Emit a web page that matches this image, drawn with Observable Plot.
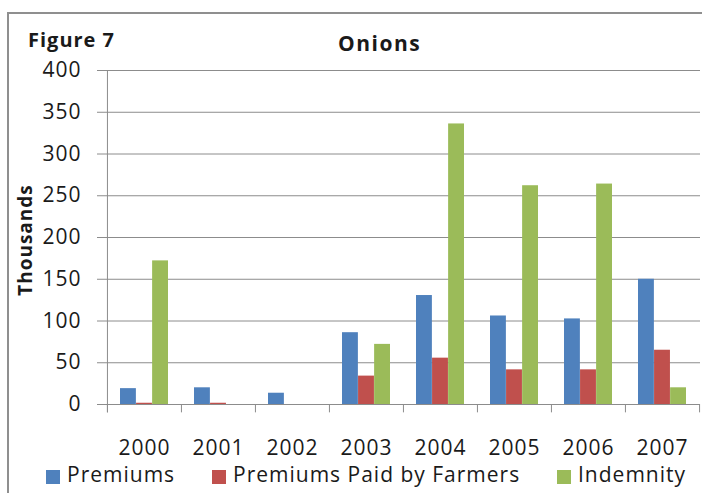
<!DOCTYPE html>
<html>
<head>
<meta charset="utf-8">
<script src="https://cdn.jsdelivr.net/npm/d3@7"></script>
<script src="https://cdn.jsdelivr.net/npm/@observablehq/plot@0.6"></script>
<style>
  html, body { margin: 0; padding: 0; background: #fff; }
  #wrap { position: relative; width: 702px; height: 493px; overflow: hidden; font-family: "Open Sans", sans-serif; color: #1a1a1a; }
  #frame { position: absolute; left: 7px; top: 12px; width: 720px; height: 520px; border-left: 2px solid #8f8f8f; border-top: 2px solid #8f8f8f; box-sizing: border-box; }
  #chart { position: absolute; left: 0; top: 0; }
  .txt { position: absolute; white-space: nowrap; line-height: 1; }
  .sw { position: absolute; width: 14px; height: 14px; }
</style>
</head>
<body>
<div id="wrap">
  <div id="frame"></div>
  <div id="chart"></div>
</div>
<script>
// ---- data ----
const years = ["2000", "2001", "2002", "2003", "2004", "2005", "2006", "2007"];
const premiums = [19, 20, 13.5, 86, 130.5, 106, 102.5, 150];
const paidByFarmers = [1.5, 1.5, 0, 34, 55.5, 41.5, 41.5, 65];
const indemnity = [172, 0, 0, 72, 336, 262, 264, 20];
const seriesNames = ["Premiums", "Premiums Paid by Farmers", "Indemnity"];
const seriesColors = ["#4F81BD", "#C0504D", "#9BBB59"];
const yTicks = [0, 50, 100, 150, 200, 250, 300, 350, 400];

const seriesValues = [premiums, paidByFarmers, indemnity];
const table = [];
seriesNames.forEach((s, i) => years.forEach((y, j) => table.push({year: y, series: s, idx: i, value: seriesValues[i][j]})));

// ---- layout ----
const W = 702, H = 470;
const mLeft = 107, mRight = 2, mTop = 70, mBottom = 66;
const padInner = 0.35, padOuter = 0.175;
const step = (W - mLeft - mRight) / years.length;
const groupW = step * (1 - padInner);
const barW = groupW / 3;
const gridColor = "#8c8c8c";

const marks = [
  Plot.gridY(yTicks, {stroke: gridColor, strokeOpacity: 1}),
  Plot.axisY(yTicks, {tickSize: 10, tickPadding: 16, stroke: gridColor, fill: "#1a1a1a", fontSize: 21, label: null}),
  Plot.axisX({tickSize: 0, tickPadding: 36, fontSize: 21, fill: "#1a1a1a", label: null}),
  ...seriesNames.map((s, i) => Plot.barY(table.filter(d => d.idx === i), {
    x: "year", y: "value", fill: seriesColors[i],
    insetLeft: i * barW, insetRight: (2 - i) * barW
  })),
  Plot.ruleY([0], {stroke: gridColor}),
  Plot.ruleX(years, {x: d => d, dx: -step / 2, y1: 0, y2: -10, stroke: gridColor}),
  Plot.ruleX([years[years.length - 1]], {x: d => d, dx: step / 2, y1: 0, y2: -10, stroke: gridColor}),
  Plot.ruleX([years[0]], {x: d => d, dx: -step / 2, y1: -10, y2: 400, stroke: gridColor})
];

const chart = Plot.plot({
  width: W, height: H,
  marginLeft: mLeft, marginRight: mRight, marginTop: mTop, marginBottom: mBottom,
  style: {fontFamily: "Open Sans", fontSize: "21px", letterSpacing: "1px", background: "transparent", overflow: "visible"},
  x: {domain: years, paddingInner: padInner, paddingOuter: padOuter},
  y: {domain: [0, 400]},
  marks
});
document.getElementById("chart").appendChild(chart);

// ---- titles & legend ----
const wrap = document.getElementById("wrap");
function addText(str, css) {
  const d = document.createElement("div");
  d.className = "txt";
  d.textContent = str;
  Object.assign(d.style, css);
  wrap.appendChild(d);
  return d;
}
addText("Figure 7", {left: "28px", top: "30px", fontSize: "20px", fontWeight: "bold", letterSpacing: "1px"});
addText("Onions", {left: "338px", top: "33px", fontSize: "21px", fontWeight: "bold", letterSpacing: "1.5px"});
addText("Thousands", {left: "25px", top: "240px", fontSize: "19px", fontWeight: "bold", letterSpacing: "1px",
  transform: "translate(-50%, -50%) rotate(-90deg)"});

const legendX = [46, 212, 557];
seriesNames.forEach((s, i) => {
  const sw = document.createElement("div");
  sw.className = "sw";
  sw.style.left = legendX[i] + "px";
  sw.style.top = "470px";
  sw.style.background = seriesColors[i];
  wrap.appendChild(sw);
  addText(s, {left: (legendX[i] + 21) + "px", top: "464px", fontSize: "21px", letterSpacing: "1px"});
});
</script>
</body>
</html>
